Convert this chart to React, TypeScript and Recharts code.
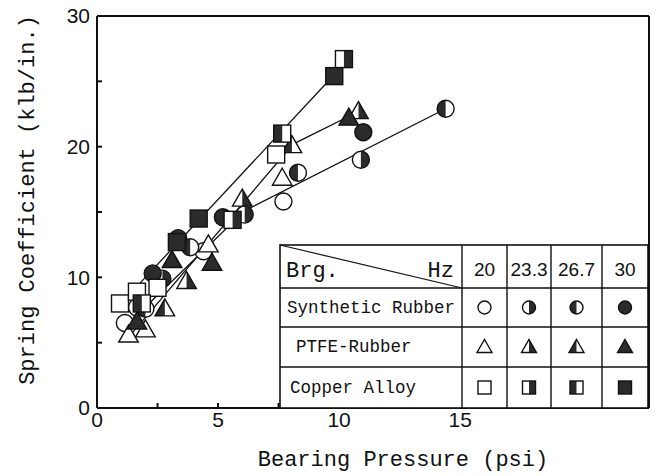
import { ScatterChart, Scatter, XAxis, YAxis, ReferenceLine } from "recharts";

type Pt = { x: number; y: number };
type Kind = "circle" | "triangle" | "square";
type Half = "open" | "right" | "left" | "full";

// Synthetic Rubber (circles)
const rubber20: Pt[] = [{ x: 1.15, y: 6.5 }, { x: 1.65, y: 7.7 }, { x: 4.4, y: 12.0 }, { x: 7.7, y: 15.8 }];
const rubber233: Pt[] = [{ x: 2.7, y: 9.9 }, { x: 6.1, y: 14.8 }, { x: 10.9, y: 19.0 }];
const rubber267: Pt[] = [{ x: 2.0, y: 7.6 }, { x: 3.85, y: 12.3 }, { x: 8.3, y: 18.0 }, { x: 14.4, y: 22.9 }];
const rubber30: Pt[] = [{ x: 2.3, y: 10.3 }, { x: 3.35, y: 13.0 }, { x: 5.2, y: 14.6 }, { x: 11.0, y: 21.1 }];

// PTFE-Rubber (triangles)
const ptfe20: Pt[] = [{ x: 1.3, y: 5.6 }, { x: 2.0, y: 6.0 }, { x: 4.6, y: 12.5 }, { x: 7.65, y: 17.6 }];
const ptfe233: Pt[] = [{ x: 3.7, y: 9.7 }, { x: 6.0, y: 16.0 }, { x: 10.8, y: 22.7 }];
const ptfe267: Pt[] = [{ x: 2.8, y: 7.6 }, { x: 8.05, y: 20.1 }];
const ptfe30: Pt[] = [{ x: 1.65, y: 6.6 }, { x: 3.1, y: 11.3 }, { x: 4.75, y: 11.1 }, { x: 10.4, y: 22.2 }];

// Copper Alloy (squares)
const copper20: Pt[] = [{ x: 0.95, y: 8.0 }, { x: 1.65, y: 8.9 }, { x: 2.5, y: 9.2 }, { x: 7.4, y: 19.4 }];
const copper233: Pt[] = [{ x: 5.6, y: 14.4 }, { x: 10.2, y: 26.7 }];
const copper267: Pt[] = [{ x: 1.85, y: 8.0 }, { x: 7.65, y: 21.0 }];
const copper30: Pt[] = [{ x: 3.3, y: 12.7 }, { x: 4.2, y: 14.5 }, { x: 9.8, y: 25.4 }];

// fitted lines
const fitRubber: Pt[] = [{ x: 1.2, y: 6.3 }, { x: 6.1, y: 15.1 }, { x: 14.4, y: 22.9 }];
const fitPtfe: Pt[] = [{ x: 1.3, y: 5.4 }, { x: 8.1, y: 20.2 }, { x: 10.6, y: 22.5 }];
const fitCopper: Pt[] = [{ x: 1.5, y: 9.0 }, { x: 9.8, y: 25.5 }];

const xTicks = [0, 2.5, 5, 7.5, 10, 12.5, 15];
const yTicks = [0, 5, 10, 15, 20, 25, 30];
const freqs = ["20", "23.3", "26.7", "30"];
const materials = ["Synthetic Rubber", "PTFE-Rubber", "Copper Alloy"];

const DARK = "#2b2b2b";
const INK = "#111";

function Marker({ cx, cy, kind, half, s }: { cx: number; cy: number; kind: Kind; half: Half; s: number }) {
  const base = half === "full" ? DARK : "#fff";
  if (kind === "circle") {
    return (
      <g>
        <circle cx={cx} cy={cy} r={s} fill={base} />
        {half === "right" && <path d={`M${cx},${cy - s} A${s},${s} 0 0 1 ${cx},${cy + s} Z`} fill={DARK} />}
        {half === "left" && <path d={`M${cx},${cy - s} A${s},${s} 0 0 0 ${cx},${cy + s} Z`} fill={DARK} />}
        <circle cx={cx} cy={cy} r={s} fill="none" stroke={INK} strokeWidth={1.4} />
      </g>
    );
  }
  if (kind === "square") {
    return (
      <g>
        <rect x={cx - s} y={cy - s} width={2 * s} height={2 * s} fill={base} />
        {half === "right" && <rect x={cx} y={cy - s} width={s} height={2 * s} fill={DARK} />}
        {half === "left" && <rect x={cx - s} y={cy - s} width={s} height={2 * s} fill={DARK} />}
        <rect x={cx - s} y={cy - s} width={2 * s} height={2 * s} fill="none" stroke={INK} strokeWidth={1.4} />
      </g>
    );
  }
  const w = s * 1.15;
  const top = cy - s * 1.15;
  const bot = cy + s * 0.85;
  const outline = `${cx},${top} ${cx + w},${bot} ${cx - w},${bot}`;
  return (
    <g>
      <polygon points={outline} fill={base} />
      {half === "right" && <polygon points={`${cx},${top} ${cx + w},${bot} ${cx},${bot}`} fill={DARK} />}
      {half === "left" && <polygon points={`${cx},${top} ${cx - w},${bot} ${cx},${bot}`} fill={DARK} />}
      <polygon points={outline} fill="none" stroke={INK} strokeWidth={1.4} strokeLinejoin="miter" />
    </g>
  );
}

const shapeOf = (kind: Kind, half: Half) => (p: any) =>
  <Marker cx={p.cx} cy={p.cy} kind={kind} half={half} s={8.5} />;

const noDot = () => <g />;

const series: { data: Pt[]; kind: Kind; half: Half }[] = [
  { data: rubber20, kind: "circle", half: "open" },
  { data: rubber233, kind: "circle", half: "right" },
  { data: rubber267, kind: "circle", half: "left" },
  { data: rubber30, kind: "circle", half: "full" },
  { data: ptfe20, kind: "triangle", half: "open" },
  { data: ptfe233, kind: "triangle", half: "right" },
  { data: ptfe267, kind: "triangle", half: "left" },
  { data: ptfe30, kind: "triangle", half: "full" },
  { data: copper20, kind: "square", half: "open" },
  { data: copper233, kind: "square", half: "right" },
  { data: copper267, kind: "square", half: "left" },
  { data: copper30, kind: "square", half: "full" },
];

const kinds: Kind[] = ["circle", "triangle", "square"];
const halves: Half[] = ["open", "right", "left", "full"];

const MONO = "'Liberation Mono', 'Courier New', monospace";
const SANS = "'Liberation Sans', Arial, sans-serif";

function LegendTable() {
  const cols = [272, 454, 499, 543, 594, 640];
  const rows = [237, 280, 319, 359, 400];
  return (
    <g>
      <rect x={cols[0]} y={rows[0]} width={cols[5] - cols[0]} height={rows[4] - rows[0]} fill="#fff" stroke={INK} strokeWidth={1.6} />
      {rows.slice(1, 4).map((y) => (
        <line key={y} x1={cols[0]} x2={cols[5]} y1={y} y2={y} stroke={INK} strokeWidth={1.4} />
      ))}
      {cols.slice(1, 5).map((x) => (
        <line key={x} x1={x} x2={x} y1={rows[0]} y2={rows[4]} stroke={INK} strokeWidth={1.4} />
      ))}
      <line x1={cols[0]} y1={rows[0]} x2={cols[1]} y2={rows[1]} stroke={INK} strokeWidth={1.2} />
      <text x={278} y={269} fontFamily={MONO} fontSize={22} fill={INK}>Brg.</text>
      <text x={446} y={269} fontFamily={MONO} fontSize={22} fill={INK} textAnchor="end">Hz</text>
      {freqs.map((f, i) => (
        <text key={f} x={(cols[i + 1] + cols[i + 2]) / 2} y={268} fontFamily={SANS} fontSize={19} fill={INK} textAnchor="middle">
          {f}
        </text>
      ))}
      {materials.map((m, r) => (
        <text key={m} x={m === "PTFE-Rubber" ? 288 : m === "Copper Alloy" ? 282 : 279}
          y={[305, 344, 385][r]} fontFamily={MONO} fontSize={17.5} fill={INK}>
          {m}
        </text>
      ))}
      {kinds.map((k, r) =>
        halves.map((h, c) => (
          <Marker key={k + h} cx={(cols[c + 1] + cols[c + 2]) / 2} cy={(rows[r + 1] + rows[r + 2]) / 2}
            kind={k} half={h} s={6.5} />
        ))
      )}
    </g>
  );
}

export default function App() {
  return (
    <div style={{ position: "relative", width: 654, height: 476, marginTop: -8 }}>
      <ScatterChart width={654} height={476} margin={{ top: 16, right: 13, bottom: 38, left: 0 }}>
        <XAxis type="number" dataKey="x" domain={[0, 22.8]} ticks={xTicks} interval={0}
          tickFormatter={(v: number) => (v % 5 === 0 ? String(v) : "")}
          tickSize={-5} tickMargin={9} height={30}
          stroke={INK} strokeWidth={2} tick={{ fill: INK, fontSize: 21, fontFamily: SANS }} />
        <YAxis type="number" dataKey="y" domain={[0, 30]} ticks={yTicks} interval={0}
          tickFormatter={(v: number) => (v % 10 === 0 ? String(v) : "")}
          tickSize={-5} tickMargin={12} width={89}
          stroke={INK} strokeWidth={2} tick={{ fill: INK, fontSize: 21, fontFamily: SANS }} />
        <ReferenceLine y={30} stroke={INK} strokeWidth={2} />
        <ReferenceLine x={22.8} stroke={INK} strokeWidth={2} />
        <Scatter data={fitRubber} line={{ stroke: INK, strokeWidth: 1.3 }} shape={noDot} isAnimationActive={false} />
        <Scatter data={fitPtfe} line={{ stroke: INK, strokeWidth: 1.3 }} shape={noDot} isAnimationActive={false} />
        <Scatter data={fitCopper} line={{ stroke: INK, strokeWidth: 1.3 }} shape={noDot} isAnimationActive={false} />
        {series.map((s, i) => (
          <Scatter key={i} data={s.data} shape={shapeOf(s.kind, s.half)} isAnimationActive={false} />
        ))}
      </ScatterChart>
      <svg width={654} height={476} style={{ position: "absolute", left: 0, top: 0, pointerEvents: "none" }}>
        <g transform="translate(0,8)">
          <LegendTable />
          <text x={395} y={458} fontFamily={MONO} fontSize={22} fill={INK} textAnchor="middle">
            Bearing Pressure (psi)
          </text>
          <text transform="translate(26,192) rotate(-90)" fontFamily={MONO} fontSize={22} fill={INK} textAnchor="middle">
            Spring Coefficient (klb/in.)
          </text>
        </g>
      </svg>
    </div>
  );
}
